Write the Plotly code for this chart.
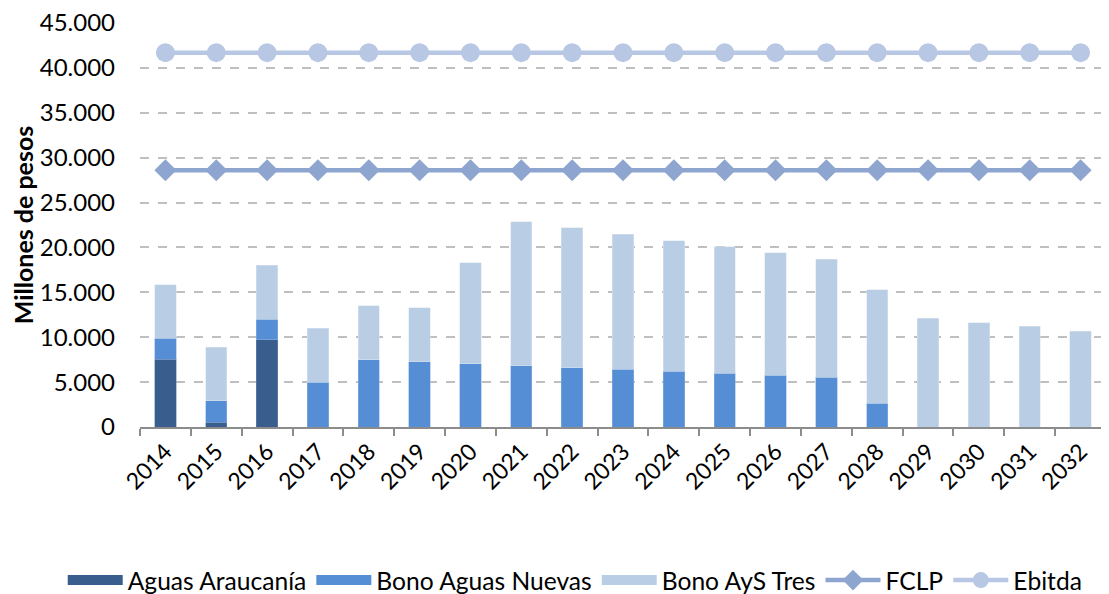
import plotly.graph_objects as go

years = [str(y) for y in range(2014, 2033)]
aguas_araucania = [7550, 520, 9730, 0, 0, 0, 0, 0, 0, 0, 0, 0, 0, 0, 0, 0, 0, 0, 0]
bono_aguas_nuevas = [2350, 2380, 2300, 5000, 7500, 7270, 7050, 6820, 6600, 6410, 6190, 5970, 5780, 5520, 2660, 0, 0, 0, 0]
bono_ays_tres = [5950, 5970, 5970, 6000, 6000, 6030, 11220, 16020, 15570, 15060, 14570, 14120, 13650, 13160, 12640, 12100, 11620, 11200, 10680]
fclp = [28600] * 19
ebitda = [41700] * 19

FONT = "Lato"
C_AA, C_BAN, C_AYS = "#395E8E", "#558ED5", "#B9CDE5"
C_FCLP, C_EBITDA = "#8EA6CF", "#B8C7E3"

fig = go.Figure()
for name, vals, col, edge in [("Aguas Araucanía", aguas_araucania, C_AA, "#6F8FB5"),
                              ("Bono Aguas Nuevas", bono_aguas_nuevas, C_BAN, "#8FB3E2"),
                              ("Bono AyS Tres", bono_ays_tres, C_AYS, "#DCE6F2")]:
    fig.add_trace(go.Bar(x=years, y=vals, name=name, legendgroup=name, showlegend=False,
                         marker=dict(color=col, line=dict(color=edge, width=0.5))))
    # legend-only proxy drawing a wide rectangle swatch
    fig.add_trace(go.Scatter(x=[None], y=[None], name=name, legendgroup=name, mode="lines",
                             line=dict(color=col, width=16), hoverinfo="skip"))

fig.add_trace(go.Scatter(x=years, y=fclp, name="FCLP", mode="lines+markers",
                         line=dict(color=C_FCLP, width=4.5),
                         marker=dict(symbol="diamond", size=17, color=C_FCLP)))
fig.add_trace(go.Scatter(x=years, y=ebitda, name="Ebitda", mode="lines+markers",
                         line=dict(color=C_EBITDA, width=4.5),
                         marker=dict(symbol="circle", size=19, color=C_EBITDA)))

fig.update_layout(
    width=1101, height=586,
    barmode="stack", bargap=0.58,
    plot_bgcolor="white", paper_bgcolor="white",
    separators=",.",
    margin=dict(l=132, r=3, t=15, b=167, autoexpand=False),
    font=dict(family=FONT, size=24, color="black"),
    showlegend=True,
    legend=dict(orientation="h", x=-0.08, xanchor="left", y=-0.379, yanchor="middle",
                font=dict(size=24.6), traceorder="normal", itemwidth=55,
                tracegroupgap=0),
    xaxis=dict(type="category", tickangle=-45, showline=True, linecolor="#8C8C8C", linewidth=2,
               ticks="outside", tickson="boundaries", ticklen=7, tickcolor="#8C8C8C",
               tickwidth=2, tickfont=dict(size=23), showgrid=False, automargin=False,
               range=[-0.5, 18.5]),
    yaxis=dict(range=[0, 45000], dtick=5000, tickformat=",d", showgrid=True,
               gridcolor="#BFBFBF", griddash="dash", gridwidth=1.5, automargin=False,
               zeroline=False, showline=False, tickfont=dict(size=24), ticklabelstandoff=24,
               ticklabeloverflow="allow",
               title=dict(text="<b>Millones de pesos</b>", font=dict(size=25), standoff=0)),
)
fig.write_html("out.html")
